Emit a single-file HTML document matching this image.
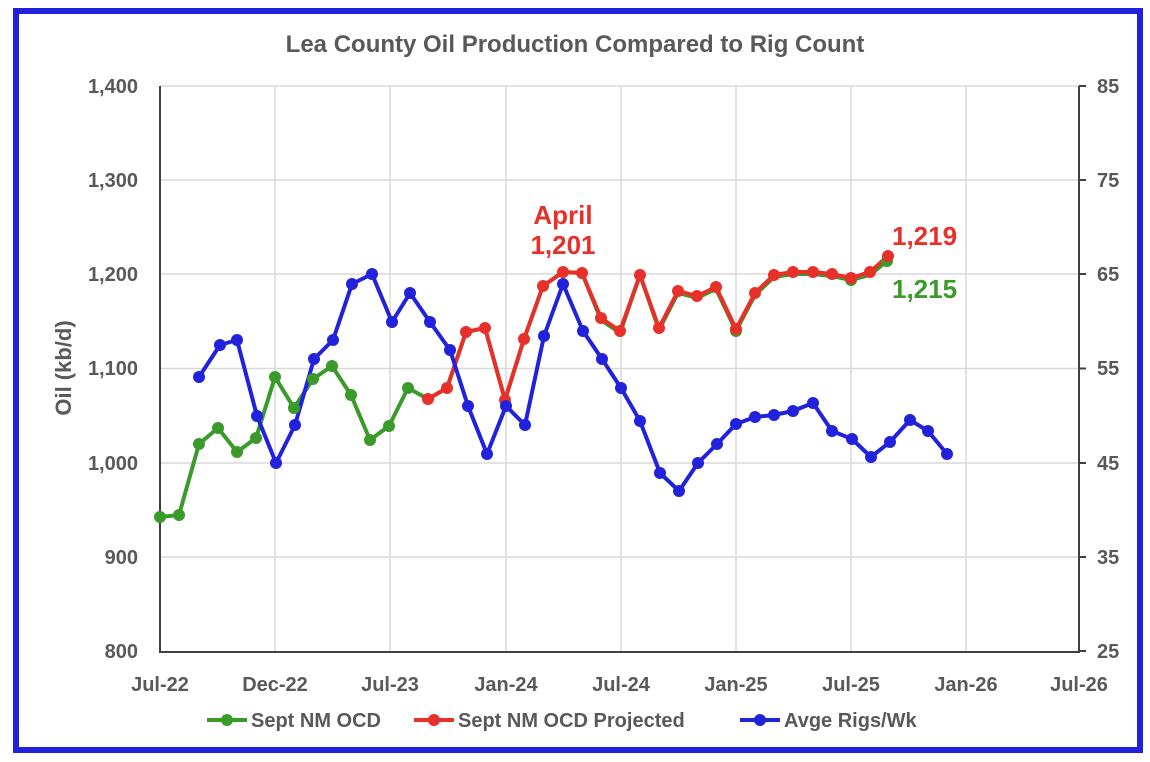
<!DOCTYPE html>
<html><head><meta charset="utf-8"><style>
html,body{margin:0;padding:0;background:#fff}
svg{display:block}
text{font-family:"Liberation Sans",Arial,sans-serif;font-weight:bold}
</style></head><body>
<svg width="1150" height="762" viewBox="0 0 1150 762" xmlns="http://www.w3.org/2000/svg">
<rect x="16" y="11" width="1124" height="739" fill="#fff" stroke="#2020dd" stroke-width="6"/>
<text x="575" y="52" text-anchor="middle" font-size="24" fill="#595959">Lea County Oil Production Compared to Rig Count</text>
<g stroke="#d9d9d9" stroke-width="1.5">
<line x1="160" y1="86" x2="1079" y2="86"/>
<line x1="160" y1="180" x2="1079" y2="180"/>
<line x1="160" y1="274" x2="1079" y2="274"/>
<line x1="160" y1="368.5" x2="1079" y2="368.5"/>
<line x1="160" y1="463" x2="1079" y2="463"/>
<line x1="160" y1="557" x2="1079" y2="557"/>
<line x1="275" y1="86" x2="275" y2="652"/>
<line x1="390" y1="86" x2="390" y2="652"/>
<line x1="506" y1="86" x2="506" y2="652"/>
<line x1="621" y1="86" x2="621" y2="652"/>
<line x1="736" y1="86" x2="736" y2="652"/>
<line x1="851" y1="86" x2="851" y2="652"/>
<line x1="966" y1="86" x2="966" y2="652"/>
</g>
<g stroke="#404040" stroke-width="2">
<line x1="160" y1="86" x2="160" y2="652"/>
<line x1="1079" y1="86" x2="1079" y2="652"/>
<line x1="159" y1="652" x2="1080" y2="652"/>
<line x1="1079" y1="86" x2="1086" y2="86"/><line x1="1079" y1="180" x2="1086" y2="180"/><line x1="1079" y1="274" x2="1086" y2="274"/><line x1="1079" y1="368.5" x2="1086" y2="368.5"/><line x1="1079" y1="463" x2="1086" y2="463"/><line x1="1079" y1="557" x2="1086" y2="557"/><line x1="1079" y1="651" x2="1086" y2="651"/>
</g>
<g font-size="20" fill="#595959" text-anchor="end">
<text x="138" y="93">1,400</text><text x="138" y="187">1,300</text><text x="138" y="281">1,200</text><text x="138" y="375">1,100</text><text x="138" y="470">1,000</text><text x="138" y="564">900</text><text x="138" y="658">800</text>
</g>
<g font-size="20" fill="#595959">
<text x="1097" y="93">85</text><text x="1097" y="187">75</text><text x="1097" y="281">65</text><text x="1097" y="375">55</text><text x="1097" y="470">45</text><text x="1097" y="564">35</text><text x="1097" y="658">25</text>
</g>
<g font-size="20" fill="#595959" text-anchor="middle">
<text x="160" y="691">Jul-22</text><text x="275" y="691">Dec-22</text><text x="390" y="691">Jul-23</text><text x="506" y="691">Jan-24</text><text x="621" y="691">Jul-24</text><text x="736" y="691">Jan-25</text><text x="851" y="691">Jul-25</text><text x="966" y="691">Jan-26</text><text x="1079" y="691">Jul-26</text>
</g>
<text transform="translate(71,368) rotate(-90)" text-anchor="middle" font-size="22" fill="#595959">Oil (kb/d)</text>
<g fill="none" stroke-width="4" stroke-linejoin="round">
<polyline stroke="#3a9a2a" points="160,517 179,515 199,444 218,428 237,452 256,438 275,377 294,408 313,379 332,366 351,395 370,440 389,426 408,388 428,399 447,388 466,332 485,328 505,400 524,339 543,286 563,272 582,273 601,320 620,333 640,275 659,330 678,293 697,298 716,289 736,331 755,295 774,277 793,274 813,274 832,276 851,280 870,275 887,261"/>
<polyline stroke="#e8302a" points="428,399 447,388 466,332 485,328 505,400 524,339 543,286 563,272 582,273 601,318 620,331 640,275 659,328 678,291 697,296 716,287 736,329 755,293 774,275 793,272 813,272 832,274 851,278 870,272 888,256"/>
<polyline stroke="#2222dd" points="199,377 220,345 237,340 257,416 276,463 295,425 314,359 333,340 352,284 372,274 392,322 410,293 430,322 450,350 468,406 487,454 506,406 525,425 544,336 563,284 583,331 602,359 621,388 640,421 660,473 679,491 698,463 717,444 736,424 755,417 774,415 793,411 813,403 832,431 852,439 871,457 890,442 910,420 928,431 947,454"/>
</g>
<g fill="#3a9a2a">
<circle cx="160" cy="517" r="6"/><circle cx="179" cy="515" r="6"/><circle cx="199" cy="444" r="6"/><circle cx="218" cy="428" r="6"/><circle cx="237" cy="452" r="6"/><circle cx="256" cy="438" r="6"/><circle cx="275" cy="377" r="6"/><circle cx="294" cy="408" r="6"/><circle cx="313" cy="379" r="6"/><circle cx="332" cy="366" r="6"/><circle cx="351" cy="395" r="6"/><circle cx="370" cy="440" r="6"/><circle cx="389" cy="426" r="6"/><circle cx="408" cy="388" r="6"/><circle cx="887" cy="261" r="6"/><circle cx="851" cy="280" r="6"/><circle cx="736" cy="331" r="6"/>
</g>
<g fill="#e8302a">
<circle cx="428" cy="399" r="6"/><circle cx="447" cy="388" r="6"/><circle cx="466" cy="332" r="6"/><circle cx="485" cy="328" r="6"/><circle cx="505" cy="400" r="6"/><circle cx="524" cy="339" r="6"/><circle cx="543" cy="286" r="6"/><circle cx="563" cy="272" r="6"/><circle cx="582" cy="273" r="6"/><circle cx="601" cy="318" r="6"/><circle cx="620" cy="331" r="6"/><circle cx="640" cy="275" r="6"/><circle cx="659" cy="328" r="6"/><circle cx="678" cy="291" r="6"/><circle cx="697" cy="296" r="6"/><circle cx="716" cy="287" r="6"/><circle cx="736" cy="329" r="6"/><circle cx="755" cy="293" r="6"/><circle cx="774" cy="275" r="6"/><circle cx="793" cy="272" r="6"/><circle cx="813" cy="272" r="6"/><circle cx="832" cy="274" r="6"/><circle cx="851" cy="278" r="6"/><circle cx="870" cy="272" r="6"/><circle cx="888" cy="256" r="6"/>
</g>
<g fill="#2222dd">
<circle cx="199" cy="377" r="6"/><circle cx="220" cy="345" r="6"/><circle cx="237" cy="340" r="6"/><circle cx="257" cy="416" r="6"/><circle cx="276" cy="463" r="6"/><circle cx="295" cy="425" r="6"/><circle cx="314" cy="359" r="6"/><circle cx="333" cy="340" r="6"/><circle cx="352" cy="284" r="6"/><circle cx="372" cy="274" r="6"/><circle cx="392" cy="322" r="6"/><circle cx="410" cy="293" r="6"/><circle cx="430" cy="322" r="6"/><circle cx="450" cy="350" r="6"/><circle cx="468" cy="406" r="6"/><circle cx="487" cy="454" r="6"/><circle cx="506" cy="406" r="6"/><circle cx="525" cy="425" r="6"/><circle cx="544" cy="336" r="6"/><circle cx="563" cy="284" r="6"/><circle cx="583" cy="331" r="6"/><circle cx="602" cy="359" r="6"/><circle cx="621" cy="388" r="6"/><circle cx="640" cy="421" r="6"/><circle cx="660" cy="473" r="6"/><circle cx="679" cy="491" r="6"/><circle cx="698" cy="463" r="6"/><circle cx="717" cy="444" r="6"/><circle cx="736" cy="424" r="6"/><circle cx="755" cy="417" r="6"/><circle cx="774" cy="415" r="6"/><circle cx="793" cy="411" r="6"/><circle cx="813" cy="403" r="6"/><circle cx="832" cy="431" r="6"/><circle cx="852" cy="439" r="6"/><circle cx="871" cy="457" r="6"/><circle cx="890" cy="442" r="6"/><circle cx="910" cy="420" r="6"/><circle cx="928" cy="431" r="6"/><circle cx="947" cy="454" r="6"/>
</g>
<g font-size="26" fill="#e8302a" text-anchor="middle">
<text x="563" y="224">April</text><text x="563" y="254">1,201</text>
</g>
<text x="892" y="245" font-size="26" fill="#e8302a">1,219</text>
<text x="892" y="298" font-size="26" fill="#3a9a2a">1,215</text>
<g font-size="20" fill="#595959">
<line x1="207" y1="720" x2="247" y2="720" stroke="#3a9a2a" stroke-width="4"/><circle cx="227" cy="720" r="6" fill="#3a9a2a"/>
<text x="251" y="727">Sept NM OCD</text>
<line x1="414" y1="720" x2="454" y2="720" stroke="#e8302a" stroke-width="4"/><circle cx="434" cy="720" r="6" fill="#e8302a"/>
<text x="458" y="727">Sept NM OCD Projected</text>
<line x1="740" y1="720" x2="780" y2="720" stroke="#2222dd" stroke-width="4"/><circle cx="760" cy="720" r="6" fill="#2222dd"/>
<text x="784" y="727">Avge Rigs/Wk</text>
</g>
</svg>
</body></html>
